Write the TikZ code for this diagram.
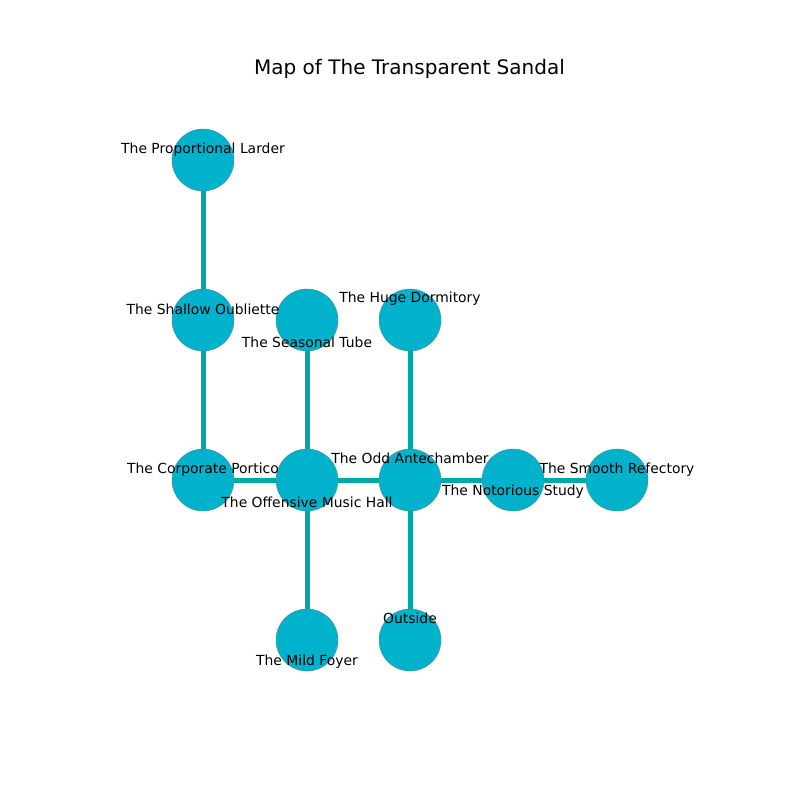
\documentclass[tikz,border=0pt]{standalone}
\usepackage{fontspec}
\setmainfont{DejaVu Sans}
\definecolor{roomfill}{HTML}{00B2CC}
\definecolor{roomedge}{HTML}{4A8A94}
\definecolor{passage}{HTML}{00A8A8}
\pgfdeclarelayer{paper}
\pgfdeclarelayer{passages}
\pgfsetlayers{paper,passages,main}
\begin{document}
\begin{tikzpicture}[x=1pt,y=-1pt,
  room/.style={circle,fill=roomfill,draw=roomedge,line width=0.4pt,minimum size=62pt,inner sep=0pt},
  passageway/.style={draw=passage,line width=5pt},
  roomlabel/.style={font=\fontsize{13.9}{16}\selectfont,inner sep=0pt,anchor=center},
  titletext/.style={font=\fontsize{20}{24}\selectfont,inner sep=0pt}]
\begin{pgfonlayer}{paper}
\useasboundingbox[fill=white] (0,0) rectangle (800,800);
\end{pgfonlayer}
% rooms
\node[room] (larder) at (203,160) {};
\node[room] (oubliette) at (203,320) {};
\node[room] (tube) at (307,320) {};
\node[room] (dormitory) at (410,320) {};
\node[room] (portico) at (203,480) {};
\node[room] (musichall) at (307,480) {};
\node[room] (antechamber) at (410,480) {};
\node[room] (study) at (513,480) {};
\node[room] (refectory) at (617,480) {};
\node[room] (foyer) at (307,640) {};
\node[room] (outside) at (410,640) {};
% passages, kept beneath the rooms
\begin{pgfonlayer}{passages}
\draw[passageway] (larder.center) -- (oubliette.center);
\draw[passageway] (oubliette.center) -- (portico.center);
\draw[passageway] (portico.center) -- (musichall.center);
\draw[passageway] (tube.center) -- (musichall.center);
\draw[passageway] (musichall.center) -- (antechamber.center);
\draw[passageway] (musichall.center) -- (foyer.center);
\draw[passageway] (dormitory.center) -- (antechamber.center);
\draw[passageway] (antechamber.center) -- (study.center);
\draw[passageway] (antechamber.center) -- (outside.center);
\draw[passageway] (study.center) -- (refectory.center);
\end{pgfonlayer}
% title and labels
\node[titletext] (title) at (409.5,68.5) {Map of The Transparent Sandal};
\node[roomlabel] (larderlbl) at (203,149.5) {The Proportional Larder};
\node[roomlabel] (oubliettelbl) at (203,309.5) {The Shallow Oubliette};
\node[roomlabel] (tubelbl) at (307,342) {The Seasonal Tube};
\node[roomlabel] (dormitorylbl) at (410,298.5) {The Huge Dormitory};
\node[roomlabel] (porticolbl) at (203,469.5) {The Corporate Portico};
\node[roomlabel] (musichalllbl) at (307,502) {The Offensive Music Hall};
\node[roomlabel] (antechamberlbl) at (410,458) {The Odd Antechamber};
\node[roomlabel] (studylbl) at (513,491.5) {The Notorious Study};
\node[roomlabel] (refectorylbl) at (617,469.5) {The Smooth Refectory};
\node[roomlabel] (foyerlbl) at (307,662) {The Mild Foyer};
\node[roomlabel] (outsidelbl) at (410,618) {Outside};
\end{tikzpicture}
\end{document}
